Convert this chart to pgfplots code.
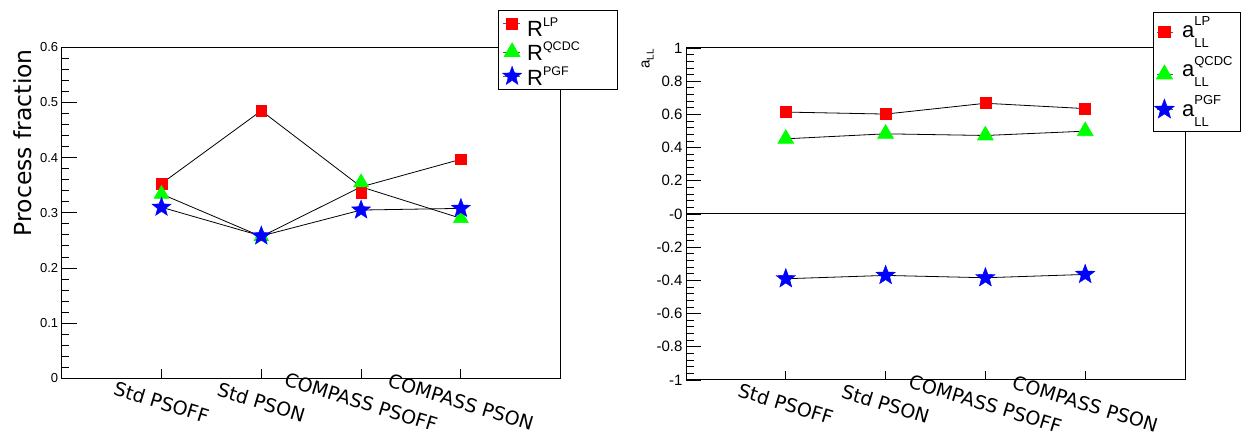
\documentclass[border=0pt]{standalone}
\usepackage{pgfplots}
\pgfplotsset{compat=1.18}
\usepackage{fontspec}
\setmainfont{Liberation Sans}
\newfontfamily\dejavu{DejaVu Sans}
\newcommand{\fs}[1]{\fontsize{#1}{#1}\selectfont}

% filled five-pointed star mark (ROOT style)
\pgfdeclareplotmark{fstar}{%
  \pgfpathmoveto{\pgfpointpolar{90}{\pgfplotmarksize}}%
  \pgfpathlineto{\pgfpointpolar{126}{0.42\pgfplotmarksize}}%
  \pgfpathlineto{\pgfpointpolar{162}{\pgfplotmarksize}}%
  \pgfpathlineto{\pgfpointpolar{198}{0.42\pgfplotmarksize}}%
  \pgfpathlineto{\pgfpointpolar{234}{\pgfplotmarksize}}%
  \pgfpathlineto{\pgfpointpolar{270}{0.42\pgfplotmarksize}}%
  \pgfpathlineto{\pgfpointpolar{306}{\pgfplotmarksize}}%
  \pgfpathlineto{\pgfpointpolar{342}{0.42\pgfplotmarksize}}%
  \pgfpathlineto{\pgfpointpolar{18}{\pgfplotmarksize}}%
  \pgfpathlineto{\pgfpointpolar{54}{0.42\pgfplotmarksize}}%
  \pgfpathclose
  \pgfusepathqfillstroke}

\pgfplotstableread{
x lp qcdc pgf lineA lineB
1 0.353 0.334 0.310 0.353 0.334
2 0.485 0.257 0.258 0.485 0.257
3 0.336 0.355 0.305 0.347 0.347
4 0.397 0.290 0.308 0.290 0.397
}\fractab

\pgfplotstableread{
x lp qcdc pgf
1 0.614 0.453 -0.390
2 0.602 0.483 -0.370
3 0.667 0.473 -0.384
4 0.635 0.499 -0.364
}\alltab

% legend image: left extent, line start, line end, right extent, y of marker
\newcommand{\limg}[5]{%
  \path[draw=none, fill=none] (-#1,0pt) -- (#4,0pt);
  \draw[overlay, gray!70!black, line width=0.8pt, solid] (#2,#5) -- (#3,#5);
  \draw[overlay] plot[only marks] coordinates {(0pt,#5)};}

\pgfplotsset{
  rootaxis/.style={
    scale only axis, width=499pt, anchor=south west,
    xmin=0, xmax=5, xtick={1,2,3,4},
    xticklabels={Std PSOFF, Std PSON, COMPASS PSOFF, COMPASS PSON},
    xticklabel style={font=\dejavu\fs{19}, rotate=-17, anchor=north, yshift=-12pt, xshift=7pt},
    xtick style={draw=none},
    tick pos=left,
    axis line style={line width=1pt},
    ytick style={black, line width=0.8pt},
    major tick length=15pt, minor tick length=7.5pt,
    minor y tick num=4,
  },
  rootlegend/.style={anchor=north west, draw=black, line width=0.8pt, fill=white,
    inner xsep=0pt, column sep=0pt, row sep=0pt, font=\fs{22}, cells={anchor=base west}},
}

\begin{document}
\begin{tikzpicture}
\useasboundingbox (0pt,0pt) rectangle (1248pt,434pt);

% ---------------- left panel ----------------
\begin{axis}[rootaxis, at={(61.7pt,55.7pt)}, height=331pt,
  ymin=0, ymax=0.6,
  ytick={0,0.1,0.2,0.3,0.4,0.5,0.6},
  yticklabels={0,0.1,0.2,0.3,0.4,0.5,0.6},
  yticklabel style={font=\fs{13}},
  ylabel={\dejavu\fs{23.5}Process fraction},
  ylabel style={at={(axis description cs:-0.0786,0.712)}, anchor=center},
  legend style={rootlegend, at={(0.875,1.113)}, inner ysep=2.9pt,
    nodes={inner sep=0pt, text height=23.1pt, text depth=1.4pt}},
]
\draw[line width=0.8pt] (rel axis cs:0.2,0) -- ++(0pt,9pt)
  (rel axis cs:0.4,0) -- ++(0pt,9pt)
  (rel axis cs:0.6,0) -- ++(0pt,9pt)
  (rel axis cs:0.8,0) -- ++(0pt,9pt);
\addplot[forget plot, black, line width=0.8pt] table[x=x, y=lineA] {\fractab};
\addplot[forget plot, only marks, mark=square*, mark size=5.3pt, mark options={fill=red, draw=red}] table[x=x, y=lp] {\fractab};
\addplot[forget plot, black, line width=0.8pt] table[x=x, y=lineB] {\fractab};
\addplot[forget plot, only marks, mark=triangle*, mark size=8.7pt, mark options={fill=green, draw=green}] table[x=x, y=qcdc] {\fractab};
\addplot[forget plot, black, line width=0.8pt, mark=fstar, mark size=10pt, mark options={fill=blue, draw=blue, line width=0.4pt}] table[x=x, y=pgf] {\fractab};

\addlegendimage{gray!70!black, mark=square*, mark size=5.5pt, mark options={solid, fill=red, draw=red},
  legend image code/.code={\limg{13.4pt}{-8.7pt}{8.3pt}{15pt}{12.7pt}}}
\addlegendentry{\makebox[90pt][l]{R\raisebox{10pt}{\fs{12.5}LP}}}
\addlegendimage{gray!70!black, mark=triangle*, mark size=9pt, mark options={solid, fill=green, draw=green},
  legend image code/.code={\limg{13.4pt}{-8.7pt}{8.3pt}{15pt}{8.8pt}}}
\addlegendentry{\makebox[90pt][l]{R\raisebox{10pt}{\fs{12.5}QCDC}}}
\addlegendimage{gray!70!black, mark=fstar, mark size=10pt, mark options={solid, fill=blue, draw=blue, line width=0.4pt},
  legend image code/.code={\limg{13.4pt}{-8.7pt}{8.3pt}{15pt}{9pt}}}
\addlegendentry{\makebox[90pt][l]{R\raisebox{10pt}{\fs{12.5}PGF}}}
\end{axis}

% ---------------- right panel ----------------
\begin{axis}[rootaxis, at={(686pt,54pt)}, height=332pt,
  ymin=-1, ymax=1,
  ytick={-1,-0.8,-0.6,-0.4,-0.2,0,0.2,0.4,0.6,0.8,1},
  yticklabels={-1,-0.8,-0.6,-0.4,-0.2,-0,0.2,0.4,0.6,0.8,1},
  yticklabel style={font=\fs{15}},
  ylabel={a\raisebox{-4pt}{\fs{10}LL}},
  ylabel style={font=\fs{15}, at={(axis description cs:-0.0772,0.967)}, anchor=center},
  legend style={rootlegend, at={(0.9365,1.1093)}, inner ysep=0pt,
    nodes={inner sep=0pt, text height=25pt, text depth=14.7pt}},
]
\draw[line width=0.8pt] (rel axis cs:0.2,0) -- ++(0pt,9pt)
  (rel axis cs:0.4,0) -- ++(0pt,9pt)
  (rel axis cs:0.6,0) -- ++(0pt,9pt)
  (rel axis cs:0.8,0) -- ++(0pt,9pt);
\addplot[forget plot, black, line width=1pt] coordinates {(0,0) (5,0)};
\addplot[forget plot, black, line width=0.8pt, mark=square*, mark size=5.5pt, mark options={fill=red, draw=red}] table[x=x, y=lp] {\alltab};
\addplot[forget plot, black, line width=0.8pt, mark=triangle*, mark size=9pt, mark options={fill=green, draw=green}] table[x=x, y=qcdc] {\alltab};
\addplot[forget plot, black, line width=0.8pt, mark=fstar, mark size=10.2pt, mark options={fill=blue, draw=blue, line width=0.4pt}] table[x=x, y=pgf] {\alltab};

\addlegendimage{gray!70!black, mark=square*, mark size=5.6pt, mark options={solid, fill=red, draw=red},
  legend image code/.code={\limg{10.7pt}{-7.3pt}{9pt}{17.7pt}{5pt}}}
\addlegendentry{\makebox[58.3pt][l]{a\rlap{\raisebox{-10pt}{\fs{13}LL}}\raisebox{11.7pt}{\fs{13}LP}}}
\addlegendimage{gray!70!black, mark=triangle*, mark size=9.2pt, mark options={solid, fill=green, draw=green},
  legend image code/.code={\limg{10.7pt}{-7.3pt}{9pt}{17.7pt}{2.5pt}}}
\addlegendentry{\makebox[58.3pt][l]{a\rlap{\raisebox{-10pt}{\fs{13}LL}}\raisebox{11.7pt}{\fs{13}QCDC}}}
\addlegendimage{gray!70!black, mark=fstar, mark size=10.5pt, mark options={solid, fill=blue, draw=blue, line width=0.4pt},
  legend image code/.code={\limg{10.7pt}{-7.3pt}{9pt}{17.7pt}{7pt}}}
\addlegendentry{\makebox[58.3pt][l]{a\rlap{\raisebox{-10pt}{\fs{13}LL}}\raisebox{11.7pt}{\fs{13}PGF}}}
\end{axis}
\end{tikzpicture}
\end{document}
